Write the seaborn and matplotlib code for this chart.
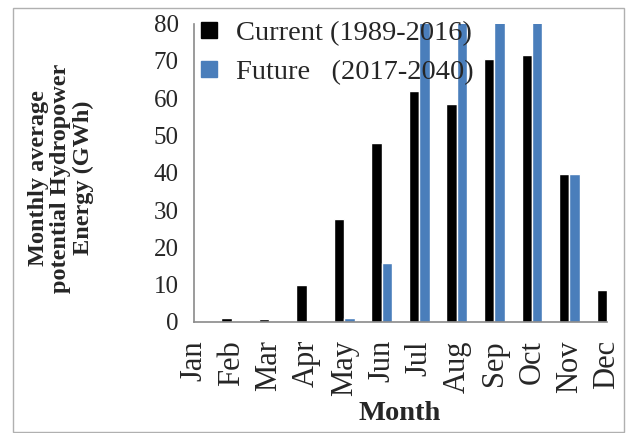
import matplotlib
matplotlib.use("Agg")
import matplotlib.pyplot as plt
from matplotlib.lines import Line2D
from matplotlib.patches import Rectangle
import seaborn as sns
import pandas as pd

months = ["Jan", "Feb", "Mar", "Apr", "May", "Jun", "Jul", "Aug", "Sep", "Oct", "Nov", "Dec"]
current = [0, 1.2, 0.9, 9.8, 27.7, 48.0, 62.0, 58.5, 70.5, 71.5, 39.7, 8.7]
future = [0, 0, 0, 0, 1.2, 15.8, 84, 85, 88, 86, 39.7, 0]
series_names = ["Current (1989-2016)", "Future   (2017-2040)"]
colors = ["#000000", "#4A7EBB"]

df = pd.DataFrame({
    "Month": months * 2,
    "Energy": current + future,
    "Period": [series_names[0]] * 12 + [series_names[1]] * 12,
})

sns.set_style("white")
plt.rcParams["font.family"] = ["Liberation Serif", "DejaVu Serif"]

W, H = 629, 433
fig = plt.figure(figsize=(W / 100, H / 100), dpi=100)
ax = fig.add_axes([194 / W, 1 - 322 / H, (607 - 194) / W, (322 - 23.6) / H])

sns.barplot(data=df, x="Month", y="Energy", hue="Period", palette=colors,
            width=0.55, saturation=1, ax=ax, legend=False, order=months,
            hue_order=series_names)

ax.set_xlim(0, 11)
ax.set_ylim(0, 80)
ax.set_yticks(range(0, 81, 10))
ax.set_xlabel("")
ax.set_ylabel("")
for side in ["top", "right"]:
    ax.spines[side].set_visible(False)
for side in ["left", "bottom"]:
    ax.spines[side].set_color("#8a8a8a")
    ax.spines[side].set_linewidth(1.2)
ax.tick_params(axis="both", direction="out", length=6, width=1.2, color="#8a8a8a")
ax.tick_params(axis="y", labelsize=18, pad=5)
ax.tick_params(axis="x", labelsize=22, labelrotation=90, pad=7)
ax.set_xticks(range(12))
ax.set_xticklabels(months)

fig.text(400 / W, 1 - 414 / H, "Month", ha="center", va="center",
         fontsize=20.5, fontweight="bold")
fig.text(61 / W, 1 - 178 / H, "Monthly average\npotential Hydropower\nEnergy (GWh)",
         rotation=90, ha="center", va="center", fontsize=17.5,
         fontweight="bold", linespacing=1.1, multialignment="center")

handles = [Line2D([], [], linestyle="none", marker="s", markersize=11,
                  markerfacecolor=c, markeredgecolor=c) for c in colors]
fig.legend(handles, series_names, loc="upper left",
           bbox_to_anchor=(198 / W, 1 - 20 / H), frameon=False,
           fontsize=20.5, handlelength=0.8, handletextpad=0.55,
           labelspacing=0.45, borderaxespad=0, borderpad=0)

fig.add_artist(Rectangle((12.5 / W, 1 / H), (624 - 12.5) / W, (432 - 8) / H,
                         transform=fig.transFigure, fill=False,
                         edgecolor="#b0b0b0", linewidth=1))

fig.savefig("out.png", dpi=100)
